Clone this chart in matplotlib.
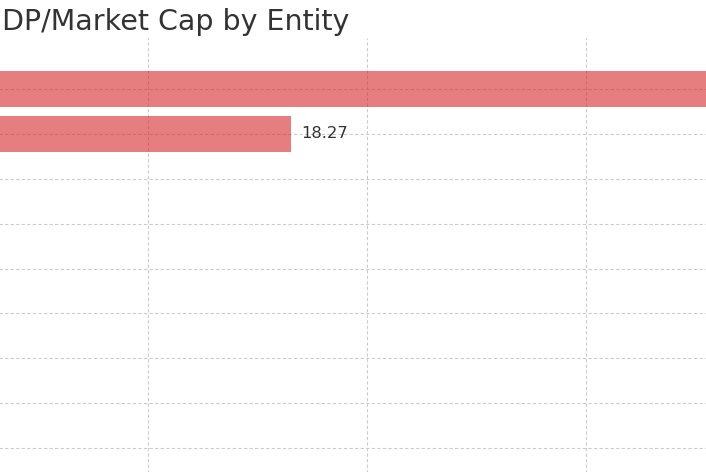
import matplotlib.pyplot as plt
from matplotlib.ticker import MultipleLocator

# GDP / market cap ratio per entity (only the top of the chart is in view)
entities = ['Entity A', 'Entity B', 'Entity C', 'Entity D', 'Entity E',
            'Entity F', 'Entity G', 'Entity H', 'Entity I', 'Entity J']
ratios = [34.5, 18.27, 9.8, 8.1, 6.9, 5.6, 4.4, 3.2, 2.1, 1.2]

W, H = 706, 472
fig = plt.figure(figsize=(W / 100, H / 100), dpi=100)

# axes is bigger than the canvas: we only see a window of it
px_per_unit = 43.8
x0_px = 148 - 15 * px_per_unit
xmax = 40
row_px = 44.9
top_px = 38
ymax = len(entities) + 1
ymin = -(89 - top_px) / row_px
ax_h = (ymax - ymin) * row_px
ax = fig.add_axes([x0_px / W, (H - top_px - ax_h) / H,
                   xmax * px_per_unit / W, ax_h / H])

ax.barh(range(len(entities)), ratios, height=0.8, color='#d62728', alpha=0.6, zorder=2)
for i, v in enumerate(ratios):
    ax.text(v + 0.24, i, '%.2f' % v, va='center', ha='left', fontsize=11.8, color='#333333')

ax.set_xlim(0, xmax)
ax.set_ylim(ymax, ymin)
ax.set_yticks(range(len(entities)))
ax.set_yticklabels(entities)
ax.xaxis.set_major_locator(MultipleLocator(5))
ax.grid(True, linestyle=(0, (3, 2)), color='#cccccc', linewidth=0.8, zorder=1)
ax.set_axisbelow(True)
for s in ax.spines.values():
    s.set_visible(False)
ax.tick_params(length=0)

fig.text(349 / W, 1 - 29.5 / H, 'GDP/Market Cap by Entity', ha='right', va='baseline',
         fontsize=20.5, color='#333333')

fig.savefig('out.png', dpi=100)
